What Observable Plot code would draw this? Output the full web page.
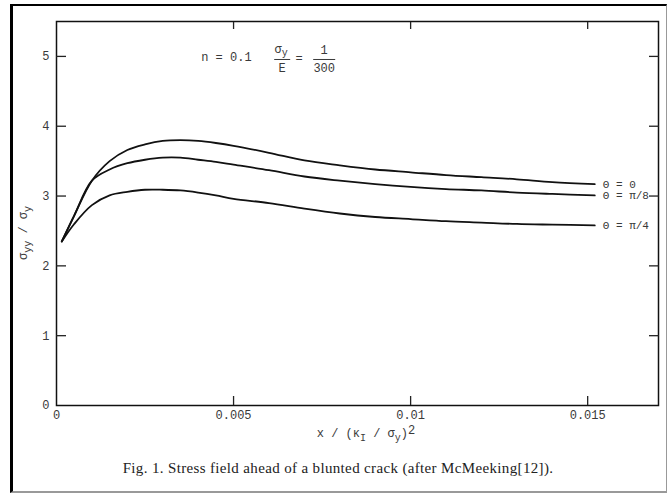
<!DOCTYPE html>
<html>
<head>
<meta charset="utf-8">
<script src="https://cdn.jsdelivr.net/npm/d3@7"></script>
<script src="https://cdn.jsdelivr.net/npm/@observablehq/plot@0.6"></script>
<style>
html,body{margin:0;padding:0;background:#fff;}
body{width:668px;height:494px;position:relative;overflow:hidden;}
#border{position:absolute;left:10px;top:4px;width:657px;height:489px;border-left:3px solid #000;border-top:2px solid #000;border-right:1px solid #999;border-bottom:2px solid #999;box-sizing:border-box;}
#chart{position:absolute;left:0;top:0;}
#caption{position:absolute;left:0;width:676px;top:460px;text-align:center;font-family:"Liberation Serif",serif;font-size:15px;letter-spacing:0.35px;color:#222;}
</style>
</head>
<body>
<div id="border"></div>
<div id="chart"></div>
<div id="caption">Fig. 1. Stress field ahead of a blunted crack (after McMeeking[12]).</div>
<script>
// ---- data ----
const xs = [0.00015, 0.0005, 0.001, 0.0015, 0.002, 0.0025, 0.003, 0.0035, 0.004, 0.0045, 0.005,
            0.006, 0.007, 0.008, 0.009, 0.010, 0.011, 0.012, 0.013, 0.014, 0.0152];
const theta0   = [2.35, 2.72, 3.22, 3.50, 3.66, 3.74, 3.79, 3.80, 3.79, 3.76, 3.72,
                  3.62, 3.51, 3.44, 3.38, 3.34, 3.30, 3.27, 3.24, 3.20, 3.17];
const thetaPi8 = [2.35, 2.72, 3.22, 3.38, 3.47, 3.52, 3.55, 3.55, 3.52, 3.49, 3.45,
                  3.37, 3.28, 3.22, 3.17, 3.13, 3.10, 3.08, 3.05, 3.03, 3.01];
const thetaPi4 = [2.35, 2.60, 2.87, 3.01, 3.06, 3.09, 3.09, 3.08, 3.05, 3.01, 2.96,
                  2.90, 2.82, 2.75, 2.70, 2.67, 2.64, 2.62, 2.60, 2.59, 2.58];
const seriesNames = ["\u0398 = 0", "\u0398 = \u03C0/8", "\u0398 = \u03C0/4"];
const xTickValues = [0, 0.005, 0.01, 0.015];
const xInnerTicks = [0.005, 0.01, 0.015];
const yTickValues = [0, 1, 2, 3, 4, 5];
const xDomain = [0, 0.017];
const yDomain = [0, 5.5];

// ---- build tables ----
const rows = [];
[theta0, thetaPi8, thetaPi4].forEach((ys, k) =>
  xs.forEach((x, i) => rows.push({x, y: ys[i], s: seriesNames[k]})));
const endLabels = [theta0, thetaPi8, thetaPi4].map((ys, k) =>
  ({x: xs[xs.length - 1], y: ys[ys.length - 1], s: seriesNames[k]}));

const ink = "#3a3a3a";
const plot = Plot.plot({
  width: 668, height: 450,
  marginLeft: 56, marginRight: 10, marginTop: 21, marginBottom: 45,
  style: {fontFamily: "'Liberation Mono', 'DejaVu Sans Mono', monospace", fontSize: "12px", color: "#111", background: "transparent"},
  x: {domain: xDomain},
  y: {domain: yDomain},
  marks: [
    Plot.frame({stroke: "#111", strokeWidth: 1.5}),
    Plot.axisX(xInnerTicks, {anchor: "bottom", tickSize: 9, dy: -9, fill: "none", stroke: "#222", strokeWidth: 1.3, label: null}),
    Plot.axisX(xInnerTicks, {anchor: "top", tickSize: 7, dy: 7, fill: "none", stroke: "#222", strokeWidth: 1.3, label: null}),
    Plot.axisY(yTickValues.slice(1), {anchor: "left", tickSize: 10, dx: 10, fill: "none", stroke: "#222", strokeWidth: 1.3, label: null}),
    Plot.axisY(yTickValues.slice(1), {anchor: "right", tickSize: 10, dx: -10, fill: "none", stroke: "#222", strokeWidth: 1.3, label: null}),
    Plot.axisX(xTickValues, {anchor: "bottom", tickSize: 0, tickPadding: 5, tickFormat: d => d === 0 ? "0" : String(d), fill: ink, label: null}),
    Plot.axisY(yTickValues, {anchor: "left", tickSize: 0, tickPadding: 7, tickFormat: d => String(d), fill: ink, label: null}),
    Plot.line(rows, {x: "x", y: "y", z: "s", curve: "catmull-rom", stroke: "#111", strokeWidth: 1.8}),
    Plot.text(endLabels, {x: "x", y: "y", text: "s", textAnchor: "start", dx: 8, fontSize: 11, fill: ink})
  ]
});
document.getElementById("chart").appendChild(plot);

// ---- rich-text annotations (subscripts, fractions) ----
const svg = d3.select(plot);
const sx = plot.scale("x"), sy = plot.scale("y");
const font = "'Liberation Mono', 'DejaVu Sans Mono', monospace";
function rich(g, parts, attrs) {
  const t = g.append("text").attr("font-family", font).attr("font-size", 12).attr("fill", ink).attr("text-anchor", "start");
  for (const k in attrs) t.attr(k, attrs[k]);
  let cur = 0;
  parts.forEach(p => {
    const shift = p.s || 0;
    const ts = t.append("tspan").text(p.t).attr("dy", shift - cur);
    if (p.small) ts.attr("font-size", 10);
    cur = shift;
  });
  return t;
}
// y axis label
const yMid = (sy.apply(yDomain[1]) + sy.apply(yDomain[0])) / 2;
rich(svg, [{t: "\u03C3"}, {t: "yy", s: 4, small: true}, {t: " / \u03C3", s: 0}, {t: "y", s: 4, small: true}],
  {"text-anchor": "middle", transform: `translate(27,${yMid + 20}) rotate(-90)`});
// x axis label
const xMid = (sx.apply(xDomain[0]) + sx.apply(xDomain[1])) / 2;
rich(svg, [{t: "x / (\u03BA"}, {t: "I", s: 4, small: true}, {t: " / \u03C3", s: 0}, {t: "y", s: 4, small: true}, {t: ")", s: 0}, {t: "2", s: -3}],
  {"text-anchor": "middle", x: xMid + 9, y: sy.apply(0) + 32});
// parameter note
const nx = sx.apply(0.0041), ny = sy.apply(4.92);
rich(svg, [{t: "n = 0.1"}], {x: nx, y: ny});
const f1 = nx + 81, f2 = nx + 123;
rich(svg, [{t: "\u03C3"}, {t: "y", s: 3, small: true}], {x: f1 - 1, y: ny - 8, "text-anchor": "middle"});
svg.append("line").attr("x1", f1 - 8).attr("x2", f1 + 8).attr("y1", ny - 2).attr("y2", ny - 2).attr("stroke", ink).attr("stroke-width", 1);
rich(svg, [{t: "E"}], {x: f1, y: ny + 11, "text-anchor": "middle"});
rich(svg, [{t: "="}], {x: nx + 98, y: ny + 1, "text-anchor": "middle"});
rich(svg, [{t: "1"}], {x: f2, y: ny - 7, "text-anchor": "middle"});
svg.append("line").attr("x1", f2 - 11).attr("x2", f2 + 11).attr("y1", ny - 2).attr("y2", ny - 2).attr("stroke", ink).attr("stroke-width", 1);
rich(svg, [{t: "300"}], {x: f2, y: ny + 11, "text-anchor": "middle"});
</script>
</body>
</html>
